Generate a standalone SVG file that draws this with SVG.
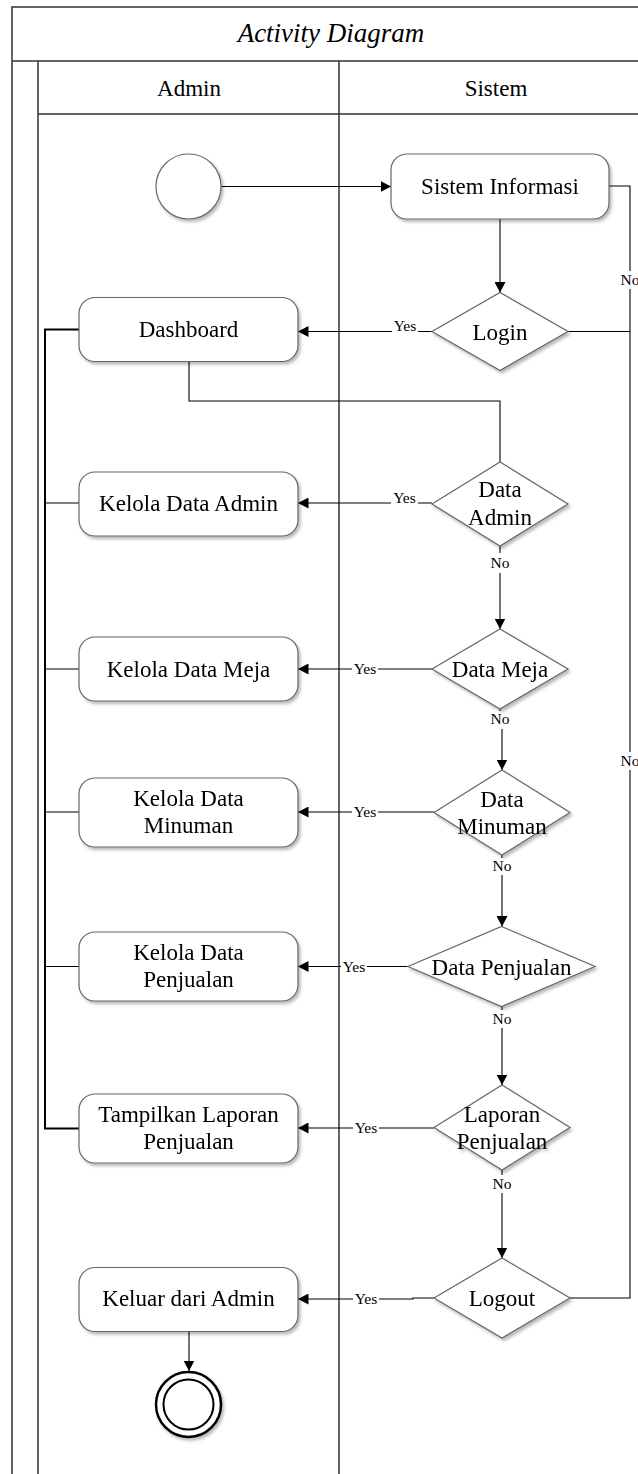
<svg xmlns="http://www.w3.org/2000/svg" width="638" height="1474" viewBox="0 0 638 1474">
<style>
.frame{fill:none;stroke:#333;stroke-width:1.5}
.node{fill:#fff;stroke:#666;stroke-width:1.2}
.t{font-family:"Liberation Serif","Times New Roman",serif;font-size:23px;fill:#000;text-anchor:middle}
.title{font-family:"Liberation Serif","Times New Roman",serif;font-size:27px;font-style:italic;fill:#000;text-anchor:middle}
.lbl{font-family:"Liberation Serif","Times New Roman",serif;font-size:15.5px;fill:#000;text-anchor:middle}
.c{fill:none;stroke:#000;stroke-width:1.1}
.bus{fill:none;stroke:#000;stroke-width:2}
.bg{fill:#fff}
</style>
<defs>
<marker id="arr" markerUnits="userSpaceOnUse" markerWidth="11" markerHeight="11" refX="10.5" refY="5.5" orient="auto">
<path d="M0,0 L10.5,5.5 L0,11 Z" fill="#000"/>
</marker>
<filter id="sh" x="-10%" y="-10%" width="130%" height="140%">
<feDropShadow dx="2" dy="2.5" stdDeviation="1.6" flood-color="#000" flood-opacity="0.28"/>
</filter>
</defs>

<g id="frame">
<rect class="frame" x="12" y="7" width="700" height="1500"/>
<path class="frame" d="M12,61 H640 M38,61 V1480 M38,114 H640 M339,61 V1480"/>
<text class="title" x="331" y="42">Activity Diagram</text>
<text class="t" x="189" y="96">Admin</text>
<text class="t" x="496" y="96">Sistem</text>
</g>

<g id="connectors">
<path class="c" d="M221,186.5 H391" marker-end="url(#arr)"/>
<path class="c" d="M500,219 V292.5" marker-end="url(#arr)"/>
<path class="c" d="M432,331.5 H298" marker-end="url(#arr)"/>
<path class="c" d="M568,331.5 H630"/>
<path class="c" d="M609,186 H630 V1298 H570"/>
<path class="c" d="M189,361.5 V401 H500 V462"/>
<path class="c" d="M432,503 H298" marker-end="url(#arr)"/>
<path class="c" d="M500,546 V629" marker-end="url(#arr)"/>
<path class="c" d="M432,669 H298" marker-end="url(#arr)"/>
<path class="c" d="M500,709 V725 H502 V770" marker-end="url(#arr)"/>
<path class="c" d="M434,812 H298" marker-end="url(#arr)"/>
<path class="c" d="M502,855 V926.5" marker-end="url(#arr)"/>
<path class="c" d="M408,966.5 H298" marker-end="url(#arr)"/>
<path class="c" d="M502,1006.5 V1085" marker-end="url(#arr)"/>
<path class="c" d="M434,1128 H298" marker-end="url(#arr)"/>
<path class="c" d="M502,1170 V1258" marker-end="url(#arr)"/>
<path class="c" d="M434,1298 H413 V1299 H298" marker-end="url(#arr)"/>
<path class="c" d="M189,1331.5 V1371" marker-end="url(#arr)"/>
<path class="bus" d="M79,329.5 H45 V1128.5 H79"/>
<path class="c" d="M45,503 H79 M45,669 H79 M45,812 H79 M45,966.5 H79"/>
<!-- labels -->
<rect class="bg" x="392" y="319" width="26" height="14"/><text class="lbl" x="405" y="331">Yes</text>
<rect class="bg" x="391" y="491" width="27" height="14"/><text class="lbl" x="404.5" y="503">Yes</text>
<rect class="bg" x="352" y="661" width="26" height="15"/><text class="lbl" x="365" y="674">Yes</text>
<rect class="bg" x="352" y="804" width="26" height="15"/><text class="lbl" x="365" y="817">Yes</text>
<rect class="bg" x="341" y="958" width="26" height="15"/><text class="lbl" x="354" y="971.5">Yes</text>
<rect class="bg" x="353" y="1120" width="26" height="15"/><text class="lbl" x="366" y="1133">Yes</text>
<rect class="bg" x="353" y="1290" width="26" height="15"/><text class="lbl" x="366" y="1303.5">Yes</text>
<rect class="bg" x="490" y="553" width="20" height="20"/><text class="lbl" x="500" y="567.5">No</text>
<rect class="bg" x="489" y="711" width="22" height="18"/><text class="lbl" x="500" y="724">No</text>
<rect class="bg" x="491" y="858" width="22" height="17"/><text class="lbl" x="502" y="870.5">No</text>
<rect class="bg" x="491" y="1010" width="22" height="18"/><text class="lbl" x="502" y="1024">No</text>
<rect class="bg" x="491" y="1175" width="22" height="18"/><text class="lbl" x="502" y="1189">No</text>
<rect class="bg" x="619" y="271" width="22" height="18"/><text class="lbl" x="630" y="284.5">No</text>
<rect class="bg" x="619" y="752" width="22" height="18"/><text class="lbl" x="630" y="766">No</text>
</g>

<g id="start" filter="url(#sh)">
<circle class="node" cx="188.5" cy="186.5" r="32.5"/>
</g>
<g id="sistem-informasi" filter="url(#sh)">
<rect class="node" x="391" y="154" width="218" height="65" rx="16"/>
<text class="t" x="500" y="193.5">Sistem Informasi</text>
</g>
<g id="login" filter="url(#sh)">
<polygon class="node" points="500,292.5 568,331.5 500,370.5 432,331.5"/>
<text class="t" x="500" y="339.5">Login</text>
</g>
<g id="dashboard" filter="url(#sh)">
<rect class="node" x="79" y="297.5" width="219" height="64" rx="16"/>
<text class="t" x="188.5" y="337">Dashboard</text>
</g>
<g id="data-admin" filter="url(#sh)">
<polygon class="node" points="500,462 568,504 500,546 432,504"/>
<text class="t" x="500" y="497">Data</text>
<text class="t" x="500" y="524.5">Admin</text>
</g>
<g id="kelola-data-admin" filter="url(#sh)">
<rect class="node" x="79" y="472" width="219" height="64" rx="16"/>
<text class="t" x="188.5" y="511">Kelola Data Admin</text>
</g>
<g id="data-meja" filter="url(#sh)">
<polygon class="node" points="500,629 568,669 500,709 432,669"/>
<text class="t" x="500" y="677">Data Meja</text>
</g>
<g id="kelola-data-meja" filter="url(#sh)">
<rect class="node" x="79" y="637" width="219" height="64" rx="16"/>
<text class="t" x="188.5" y="676.5">Kelola Data Meja</text>
</g>
<g id="data-minuman" filter="url(#sh)">
<polygon class="node" points="502,770 570,812.5 502,855 434,812.5"/>
<text class="t" x="502" y="806.5">Data</text>
<text class="t" x="502" y="833.5">Minuman</text>
</g>
<g id="kelola-data-minuman" filter="url(#sh)">
<rect class="node" x="79" y="778" width="219" height="69" rx="16"/>
<text class="t" x="188.5" y="806">Kelola Data</text>
<text class="t" x="188.5" y="833">Minuman</text>
</g>
<g id="data-penjualan" filter="url(#sh)">
<polygon class="node" points="501.5,926.5 595,966.5 501.5,1006.5 408,966.5"/>
<text class="t" x="501.5" y="974.5">Data Penjualan</text>
</g>
<g id="kelola-data-penjualan" filter="url(#sh)">
<rect class="node" x="79" y="932" width="219" height="69" rx="16"/>
<text class="t" x="188.5" y="960">Kelola Data</text>
<text class="t" x="188.5" y="987">Penjualan</text>
</g>
<g id="laporan-penjualan" filter="url(#sh)">
<polygon class="node" points="502,1085 570,1127.5 502,1170 434,1127.5"/>
<text class="t" x="502" y="1121.5">Laporan</text>
<text class="t" x="502" y="1148.5">Penjualan</text>
</g>
<g id="tampilkan-laporan" filter="url(#sh)">
<rect class="node" x="79" y="1094" width="219" height="69" rx="16"/>
<text class="t" x="188.5" y="1122">Tampilkan Laporan</text>
<text class="t" x="188.5" y="1149">Penjualan</text>
</g>
<g id="logout" filter="url(#sh)">
<polygon class="node" points="502,1258 570,1298 502,1338 434,1298"/>
<text class="t" x="502" y="1306">Logout</text>
</g>
<g id="keluar-dari-admin" filter="url(#sh)">
<rect class="node" x="79" y="1267.5" width="219" height="64" rx="16"/>
<text class="t" x="188.5" y="1306">Keluar dari Admin</text>
</g>
<g id="end" filter="url(#sh)">
<circle cx="188.5" cy="1404.5" r="32.5" fill="#fff" stroke="#000" stroke-width="2.5"/>
<circle cx="188.5" cy="1404.5" r="25" fill="#fff" stroke="#000" stroke-width="2"/>
</g>
</svg>
